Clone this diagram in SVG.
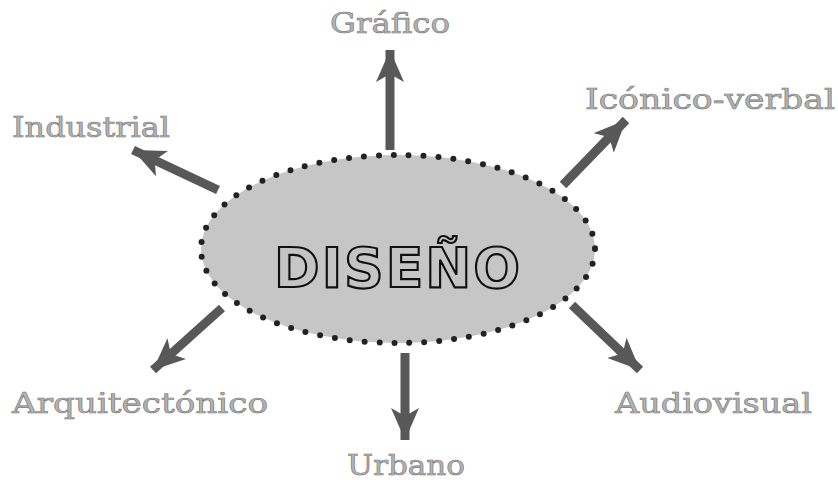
<svg xmlns="http://www.w3.org/2000/svg" width="838" height="480" viewBox="0 0 838 480">
<style>
.lbl{font-family:"DejaVu Serif","Liberation Serif",serif;font-size:27px;fill:#b4b4b4;stroke:#777;stroke-width:0.6}
.arr{stroke:#585858;stroke-width:9;fill:none;marker-end:url(#head)}
.title{font-family:"DejaVu Sans","Liberation Sans",sans-serif;font-weight:bold;font-size:56px;fill:#c4c4c4;stroke:#111;stroke-width:2.2;letter-spacing:2px}
</style>
<defs>
<marker id="head" markerUnits="userSpaceOnUse" markerWidth="34" markerHeight="28" refX="32" refY="14" orient="auto">
<path d="M0,0 L32,14 L0,28 L8,14 z" fill="#585858"/>
</marker>
</defs>
<rect width="838" height="480" fill="#fff"/>
<g id="connectors">
<line class="arr" x1="390" y1="150" x2="390" y2="50"/>
<line class="arr" x1="218" y1="190" x2="133" y2="150"/>
<line class="arr" x1="563" y1="185" x2="626" y2="120"/>
<line class="arr" x1="222" y1="308" x2="153" y2="370"/>
<line class="arr" x1="572" y1="305" x2="640" y2="370"/>
<line class="arr" x1="405" y1="353" x2="405" y2="440"/>
</g>
<g id="diseno">
<ellipse cx="398" cy="249" rx="197" ry="94" fill="#c6c6c6"/>
<ellipse cx="398" cy="249" rx="197" ry="94" fill="none" stroke="#222" stroke-width="6" stroke-linecap="round" stroke-dasharray="0 14.95"/>
<text class="title" x="398" y="287" text-anchor="middle" textLength="248" lengthAdjust="spacingAndGlyphs">DISEÑO</text>
</g>
<g id="grafico"><text class="lbl" x="390" y="33" text-anchor="middle" textLength="120" lengthAdjust="spacingAndGlyphs">Gráfico</text></g>
<g id="industrial"><text class="lbl" x="12" y="137" textLength="158" lengthAdjust="spacingAndGlyphs">Industrial</text></g>
<g id="iconico"><text class="lbl" x="585" y="109" textLength="250" lengthAdjust="spacingAndGlyphs">Icónico-verbal</text></g>
<g id="arquitectonico"><text class="lbl" x="12" y="413" textLength="256" lengthAdjust="spacingAndGlyphs">Arquitectónico</text></g>
<g id="audiovisual"><text class="lbl" x="615" y="413" textLength="197" lengthAdjust="spacingAndGlyphs">Audiovisual</text></g>
<g id="urbano"><text class="lbl" x="347" y="475" textLength="118" lengthAdjust="spacingAndGlyphs">Urbano</text></g>
</svg>
